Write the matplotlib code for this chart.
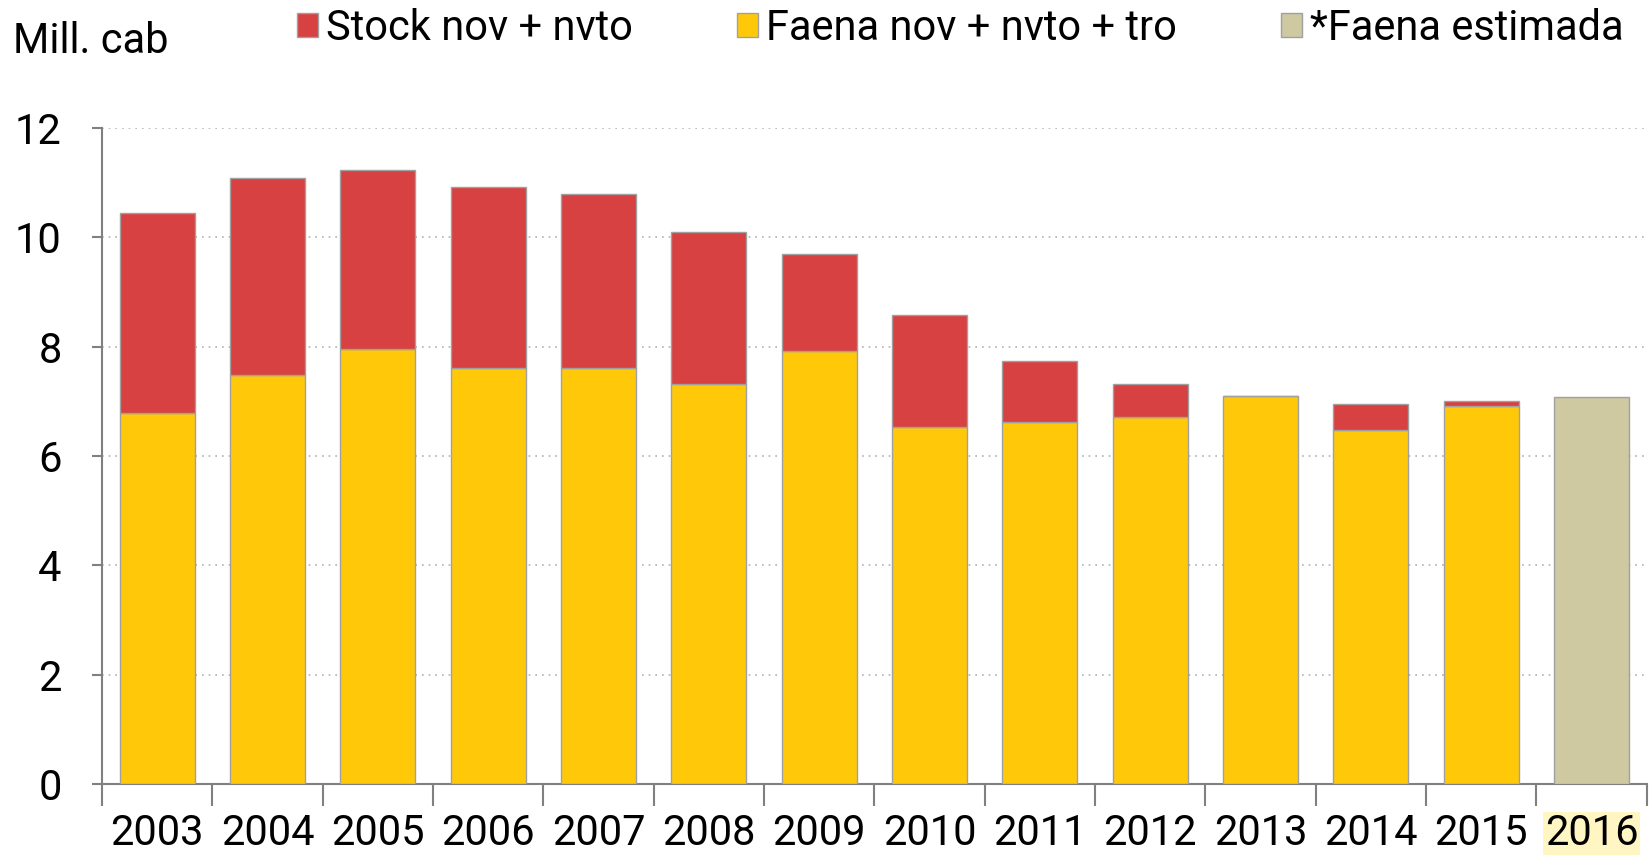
import numpy as np
import matplotlib.pyplot as plt
from matplotlib.patches import Patch

plt.rcParams['font.family'] = ['Roboto', 'DejaVu Sans']

anios = ['2003', '2004', '2005', '2006', '2007', '2008', '2009',
         '2010', '2011', '2012', '2013', '2014', '2015', '2016']
faena = [6.78, 7.48, 7.96, 7.61, 7.61, 7.32, 7.92, 6.53, 6.63, 6.71, 7.09, 6.47, 6.92, 0]
stock = [3.66, 3.60, 3.27, 3.31, 3.18, 2.78, 1.77, 2.04, 1.10, 0.61, 0.0, 0.49, 0.09, 0]
faena_est = [0, 0, 0, 0, 0, 0, 0, 0, 0, 0, 0, 0, 0, 7.07]

rojo = '#D84141'
amarillo = '#FFC90A'
caqui = '#CFC9A2'

fig = plt.figure(figsize=(16.5, 8.56), dpi=100)
ax = fig.add_axes([0.0618, 0.0841, 0.9362, 0.7664])

x = np.arange(len(anios))
ancho = 0.68
ax.bar(x, faena, ancho, color=amarillo, edgecolor='#a0a0a0', linewidth=1, zorder=3)
ax.bar(x, stock, ancho, bottom=faena, color=rojo, edgecolor='#a0a0a0', linewidth=1, zorder=3)
ax.bar(x, faena_est, ancho, color=caqui, edgecolor='#a0a0a0', linewidth=1, zorder=3)

ax.set_xlim(-0.5, len(anios) - 0.5)
ax.set_ylim(0, 12)
ax.set_yticks(np.arange(0, 13, 2))
ax.set_xticks(x)
ax.set_xticklabels(anios)
ax.set_xticks(np.arange(-0.5, len(anios), 1), minor=True)
ax.tick_params(axis='x', which='major', length=0, pad=21, labelsize=30)
ax.tick_params(axis='x', which='minor', length=16, width=1.5, color='#808080')
ax.tick_params(axis='y', length=7, width=1.5, color='#808080', pad=22, labelsize=30)

ax.grid(axis='y', linestyle=(0, (1, 3)), color='#b0b0b0', linewidth=1.2, zorder=0)
for s in ['top', 'right']:
    ax.spines[s].set_visible(False)
for s in ['left', 'bottom']:
    ax.spines[s].set_color('#808080')
    ax.spines[s].set_linewidth(1.5)

ax.get_xticklabels()[-1].set_bbox(dict(facecolor='#FFF6C4', edgecolor='none', pad=1))

fig.text(0.008, 0.951, 'Mill. cab', fontsize=30, va='center', ha='left')

handles = [Patch(facecolor=rojo, edgecolor='#a0a0a0'),
           Patch(facecolor=amarillo, edgecolor='#a0a0a0'),
           Patch(facecolor=caqui, edgecolor='#a0a0a0')]
etiquetas = ['Stock nov + nvto', 'Faena nov + nvto + tro', '*Faena estimada']
fig.legend(handles, etiquetas, loc='center', bbox_to_anchor=(0.582, 0.967), ncol=3,
           frameon=False, fontsize=30, handlelength=0.5, handleheight=0.5,
           handletextpad=0.2, columnspacing=2.5, borderpad=0)

fig.savefig('out.png', dpi=100)
